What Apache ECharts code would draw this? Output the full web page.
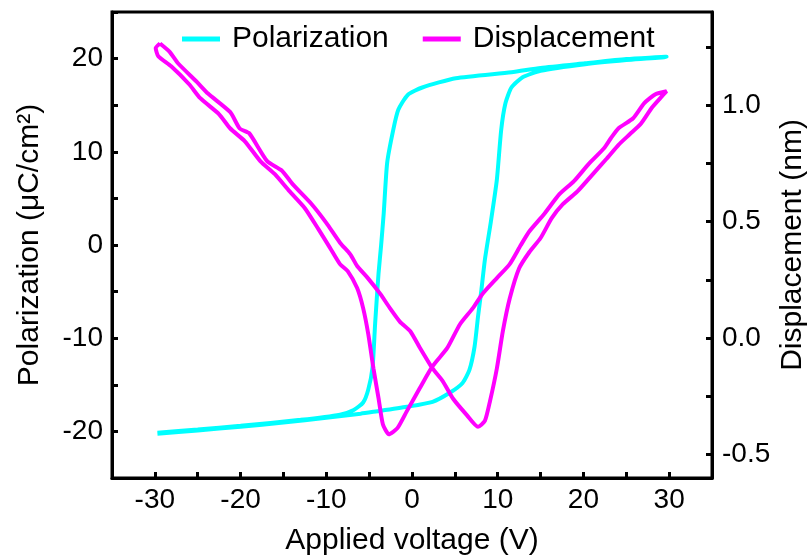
<!DOCTYPE html>
<html>
<head>
<meta charset="utf-8">
<script src="https://cdn.jsdelivr.net/npm/echarts@6/dist/echarts.min.js"></script>
<style>
  html, body { margin: 0; padding: 0; background: #fff; }
  #chart { width: 810px; height: 558px; }
</style>
</head>
<body>
<div id="chart"></div>
<script>
// polarization loop, sweep up (-30 -> 30) and back down
const polUpV = [-29.7, -25, -20, -15, -10, -6, -4.5, -0.6, 2.4, 4.4, 5.9, 6.7, 7.3, 7.7, 8.1, 8.5, 9.2, 9.9, 10.4, 10.9, 11.6, 12.9, 15, 20.2, 25, 29.7];
const polUpP = [-20.25, -19.9, -19.5, -19.05, -18.55, -18.1, -17.9, -17.36, -16.83, -15.86, -14.8, -13.4, -10.9, -7.7, -4.8, -1.6, 2.5, 7.0, 12.3, 15.2, 16.9, 18.0, 18.7, 19.4, 19.85, 20.2];
const polDownV = [29.7, 25, 20.2, 15, 11.6, 5.1, 1.2, -0.5, -1.6, -2.2, -2.9, -3.3, -3.6, -3.9, -4.3, -4.6, -5.1, -5.7, -6.8, -8.4, -13, -20, -25, -29.7];
const polDownP = [20.26, 19.95, 19.5, 19.0, 18.54, 17.9, 16.9, 16.1, 14.5, 12.3, 8.8, 3.4, 0, -3.0, -8.4, -13.1, -15.5, -16.9, -17.7, -18.2, -18.76, -19.4, -19.8, -20.15];

// displacement butterfly
const dispUpV = [-29.4, -28.3, -27.3, -25.1, -23.8, -21.2, -20.1, -19.0, -16.9, -15.2, -13.9, -11.7, -10.0, -8.4, -7.2, -6.4, -5.2, -3.7, -2.6, -1.4, -0.2, 0.9, 2.4, 3.6, 4.8, 6.4, 7.7, 8.5, 9.1, 9.9, 10.6, 11.4, 12.5, 13.7, 15.0, 16.3, 17.6, 19.3, 21.0, 22.7, 24.1, 25.4, 26.7, 28.0, 29.2, 29.7];
const dispUpD = [1.265, 1.23, 1.18, 1.10, 1.05, 0.97, 0.90, 0.88, 0.76, 0.72, 0.66, 0.575, 0.495, 0.41, 0.36, 0.31, 0.26, 0.19, 0.13, 0.07, 0.03, -0.04, -0.13, -0.185, -0.26, -0.33, -0.38, -0.355, -0.27, -0.13, 0.03, 0.17, 0.30, 0.37, 0.43, 0.515, 0.575, 0.63, 0.70, 0.77, 0.83, 0.875, 0.92, 0.99, 1.04, 1.06];
const dispDownV = [29.7, 28.4, 27.1, 25.8, 24.1, 23.2, 22.4, 20.6, 18.9, 17.2, 15.4, 13.7, 12.7, 11.4, 9.9, 8.2, 7.1, 5.6, 4.1, 2.4, 0.9, -0.6, -1.7, -2.7, -3.4, -3.9, -4.5, -5.1, -5.7, -6.4, -7.5, -8.4, -9.6, -10.9, -12.5, -14.3, -16.0, -17.7, -19.5, -21.2, -22.5, -24.7, -26.0, -28.1, -29.6, -29.9, -29.4];
const dispDownD = [1.06, 1.047, 1.009, 0.944, 0.901, 0.858, 0.815, 0.747, 0.674, 0.618, 0.532, 0.459, 0.40, 0.318, 0.258, 0.189, 0.129, 0.06, -0.043, -0.12, -0.215, -0.313, -0.386, -0.412, -0.369, -0.258, -0.129, 0.017, 0.129, 0.215, 0.288, 0.318, 0.39, 0.467, 0.558, 0.631, 0.704, 0.76, 0.845, 0.90, 0.961, 1.03, 1.09, 1.167, 1.21, 1.245, 1.265];

const rightTicks = [-0.5, -0.25, 0, 0.25, 0.5, 0.75, 1.0, 1.25];
const rightLabels = [-0.5, 0, 0.5, 1.0];

function zip(xs, ys) {
  return xs.map((x, i) => [x, ys[i]]);
}

const font = "'Liberation Sans', Arial, sans-serif";
const axisLine = { show: true, onZero: false, lineStyle: { color: "#000", width: 3 } };
const tick = { show: true, inside: true, length: 6, lineStyle: { color: "#000", width: 3 } };

const chart = echarts.init(document.getElementById("chart"));
chart.setOption({
  animation: false,
  textStyle: { fontFamily: font },
  grid: {
    left: 112,
    right: 98,
    top: 12,
    bottom: 80,
    outerBoundsMode: "none",
    show: true,
    borderColor: "#000",
    borderWidth: 3,
  },
  legend: {
    left: 177,
    top: 19,
    icon: "rect",
    itemWidth: 38,
    itemHeight: 5,
    itemGap: 34,
    textStyle: { fontSize: 30, color: "#000", fontFamily: font, padding: [0, 0, 0, 7] },
    data: ["Polarization", "Displacement"],
  },
  xAxis: {
    type: "value",
    min: -35,
    max: 35,
    interval: 5,
    name: "Applied voltage (V)",
    nameLocation: "middle",
    nameGap: 48,
    nameMoveOverlap: false,
    nameTextStyle: { fontSize: 30, color: "#000", fontFamily: font },
    axisLine: axisLine,
    axisTick: tick,
    splitLine: { show: false },
    axisLabel: {
      fontSize: 28,
      color: "#000",
      margin: 8,
      formatter: (v) => (v % 10 === 0 ? String(v) : ""),
    },
  },
  yAxis: [
    {
      type: "value",
      min: -25,
      max: 25,
      interval: 5,
      name: "Polarization (μC/cm²)",
      nameLocation: "middle",
      nameRotate: 90,
      nameGap: 67,
      nameMoveOverlap: false,
      nameTextStyle: { fontSize: 30, color: "#000", fontFamily: font },
      axisLine: axisLine,
      axisTick: tick,
      splitLine: { show: false },
      axisLabel: {
        fontSize: 28,
        color: "#000",
        margin: 9,
        formatter: (v) => (v % 10 === 0 ? String(v) : ""),
      },
    },
    {
      type: "value",
      position: "right",
      min: -0.6,
      max: 1.4,
      name: "Displacement (nm)",
      nameLocation: "middle",
      nameRotate: 90,
      nameGap: 66,
      nameMoveOverlap: false,
      nameTextStyle: { fontSize: 30, color: "#000", fontFamily: font },
      axisLine: axisLine,
      axisTick: Object.assign({}, tick, { customValues: rightTicks }),
      splitLine: { show: false },
      axisLabel: {
        fontSize: 28,
        color: "#000",
        margin: 10,
        customValues: rightLabels,
        formatter: (v) => v.toFixed(1),
      },
    },
  ],
  series: [
    {
      name: "Polarization",
      type: "line",
      yAxisIndex: 0,
      symbol: "none",
      smooth: 0.2,
      lineStyle: { color: "#00FFFF", width: 4 },
      itemStyle: { color: "#00FFFF" },
      data: zip(polUpV, polUpP).concat(zip(polDownV, polDownP)),
    },
    {
      name: "Displacement",
      type: "line",
      yAxisIndex: 1,
      symbol: "none",
      smooth: 0.2,
      lineStyle: { color: "#FF00FF", width: 4 },
      itemStyle: { color: "#FF00FF" },
      data: zip(dispUpV, dispUpD).concat(zip(dispDownV, dispDownD)),
    },
  ],
});
</script>
</body>
</html>
